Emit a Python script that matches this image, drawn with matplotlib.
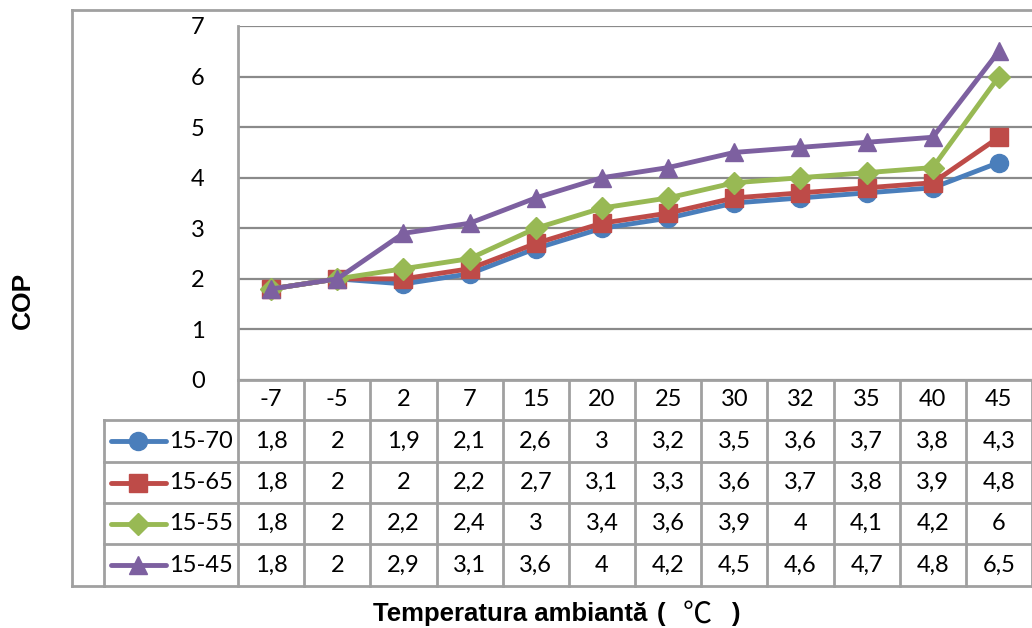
import matplotlib.pyplot as plt
from matplotlib.lines import Line2D

temps = ['-7', '-5', '2', '7', '15', '20', '25', '30', '32', '35', '40', '45']
cop_15_70 = [1.8, 2, 1.9, 2.1, 2.6, 3, 3.2, 3.5, 3.6, 3.7, 3.8, 4.3]
cop_15_65 = [1.8, 2, 2, 2.2, 2.7, 3.1, 3.3, 3.6, 3.7, 3.8, 3.9, 4.8]
cop_15_55 = [1.8, 2, 2.2, 2.4, 3, 3.4, 3.6, 3.9, 4, 4.1, 4.2, 6]
cop_15_45 = [1.8, 2, 2.9, 3.1, 3.6, 4, 4.2, 4.5, 4.6, 4.7, 4.8, 6.5]

series = [
    ('15-70', cop_15_70, '#4A7EBB', 'o'),
    ('15-65', cop_15_65, '#BE4B48', 's'),
    ('15-55', cop_15_55, '#98B954', 'D'),
    ('15-45', cop_15_45, '#7D60A0', '^'),
]
msize = {'o': 13, 's': 13, 'D': 11, '^': 13}

W, H = 1032, 628
fig = plt.figure(figsize=(W / 100, H / 100), dpi=100)

def fx(px):
    return px / W

def fy(py):
    return 1 - py / H

grid_c = '#8A8A8A'
tab_c = '#A0A0A0'
num_font = 'Lato'
num_size = 17
bold_font = ['Liberation Sans', 'DejaVu Sans']

# plot area
px_left, px_right = 238, 1032
py_top, py_zero = 26, 380
ax = fig.add_axes([fx(px_left), fy(py_zero), fx(px_right - px_left), (py_zero - py_top) / H])
n = len(temps)
x = list(range(n))
ax.set_xlim(-0.5, n - 0.5)
ax.set_ylim(0, 7)
ax.set_yticks(range(8))
ax.yaxis.grid(True, color=grid_c, linewidth=1.6)
ax.set_axisbelow(True)
ax.set_xticks([])
ax.tick_params(axis='y', length=0, pad=24, labelsize=num_size)
for lab in ax.get_yticklabels():
    lab.set_fontfamily(num_font)
for s in ['top', 'right', 'bottom']:
    ax.spines[s].set_visible(False)
ax.spines['left'].set_color(tab_c)
ax.spines['left'].set_linewidth(2)

for name, vals, col, mk in series:
    ax.plot(x, vals, color=col, marker=mk, markersize=msize[mk], linewidth=3.5,
            markeredgecolor=col, clip_on=False, zorder=3)

# data table
row_edges = [380, 420, 462, 503, 544, 586]
col_w = (px_right - px_left) / n
leg_left = 104

def hline(y, x0, x1, c=tab_c):
    fig.add_artist(Line2D([fx(x0), fx(x1)], [fy(y), fy(y)], color=c, linewidth=2))

def vline(xp, y0, y1, c=tab_c):
    fig.add_artist(Line2D([fx(xp), fx(xp)], [fy(y0), fy(y1)], color=c, linewidth=2))

hline(row_edges[0], px_left, px_right)
for y in row_edges[1:]:
    hline(y, leg_left, px_right)
vline(leg_left, row_edges[1], row_edges[-1])
for i in range(n + 1):
    vline(px_left + i * col_w, row_edges[0], row_edges[-1])

# outer chart border
hline(10, 72, W)
vline(72, 10, row_edges[-1])
hline(row_edges[-1], 72, leg_left)

for i, t in enumerate(temps):
    cx = px_left + (i + 0.5) * col_w
    cy = (row_edges[0] + row_edges[1]) / 2
    fig.text(fx(cx), fy(cy), t, ha='center', va='center', fontsize=num_size, family=num_font)

for r, (name, vals, col, mk) in enumerate(series):
    cy = (row_edges[r + 1] + row_edges[r + 2]) / 2
    for i, v in enumerate(vals):
        cx = px_left + (i + 0.5) * col_w
        txt = ('%g' % v).replace('.', ',')
        fig.text(fx(cx), fy(cy), txt, ha='center', va='center', fontsize=num_size, family=num_font)
    # legend key
    fig.add_artist(Line2D([fx(111), fx(166)], [fy(cy), fy(cy)], color=col, linewidth=3.5,
                          solid_capstyle='round'))
    fig.add_artist(Line2D([fx(138)], [fy(cy)], color=col, marker=mk, markersize=msize[mk],
                          markeredgecolor=col, linestyle='none'))
    fig.text(fx(169), fy(cy), name, ha='left', va='center', fontsize=num_size, family=num_font)

fig.text(fx(23), fy(300), 'COP', rotation=90, ha='center', va='center',
         fontsize=19, fontweight='bold', family=bold_font)

# x axis title, pieces placed like the original spacing
base = 621.5
fig.text(fx(373), fy(base), 'Temperatura ambiantă', ha='left', va='baseline',
         fontsize=18.5, fontweight='bold', family=bold_font)
fig.text(fx(657), fy(base), '(', ha='left', va='baseline',
         fontsize=18.5, fontweight='bold', family=bold_font)
fig.text(fx(683), fy(base + 1), '℃', ha='left', va='baseline',
         fontsize=21, fontweight='medium', family=['Noto Sans CJK SC', 'DejaVu Sans'])
fig.text(fx(731), fy(base), ')', ha='left', va='baseline',
         fontsize=18.5, fontweight='bold', family=bold_font)

fig.savefig('out.png', dpi=100)
